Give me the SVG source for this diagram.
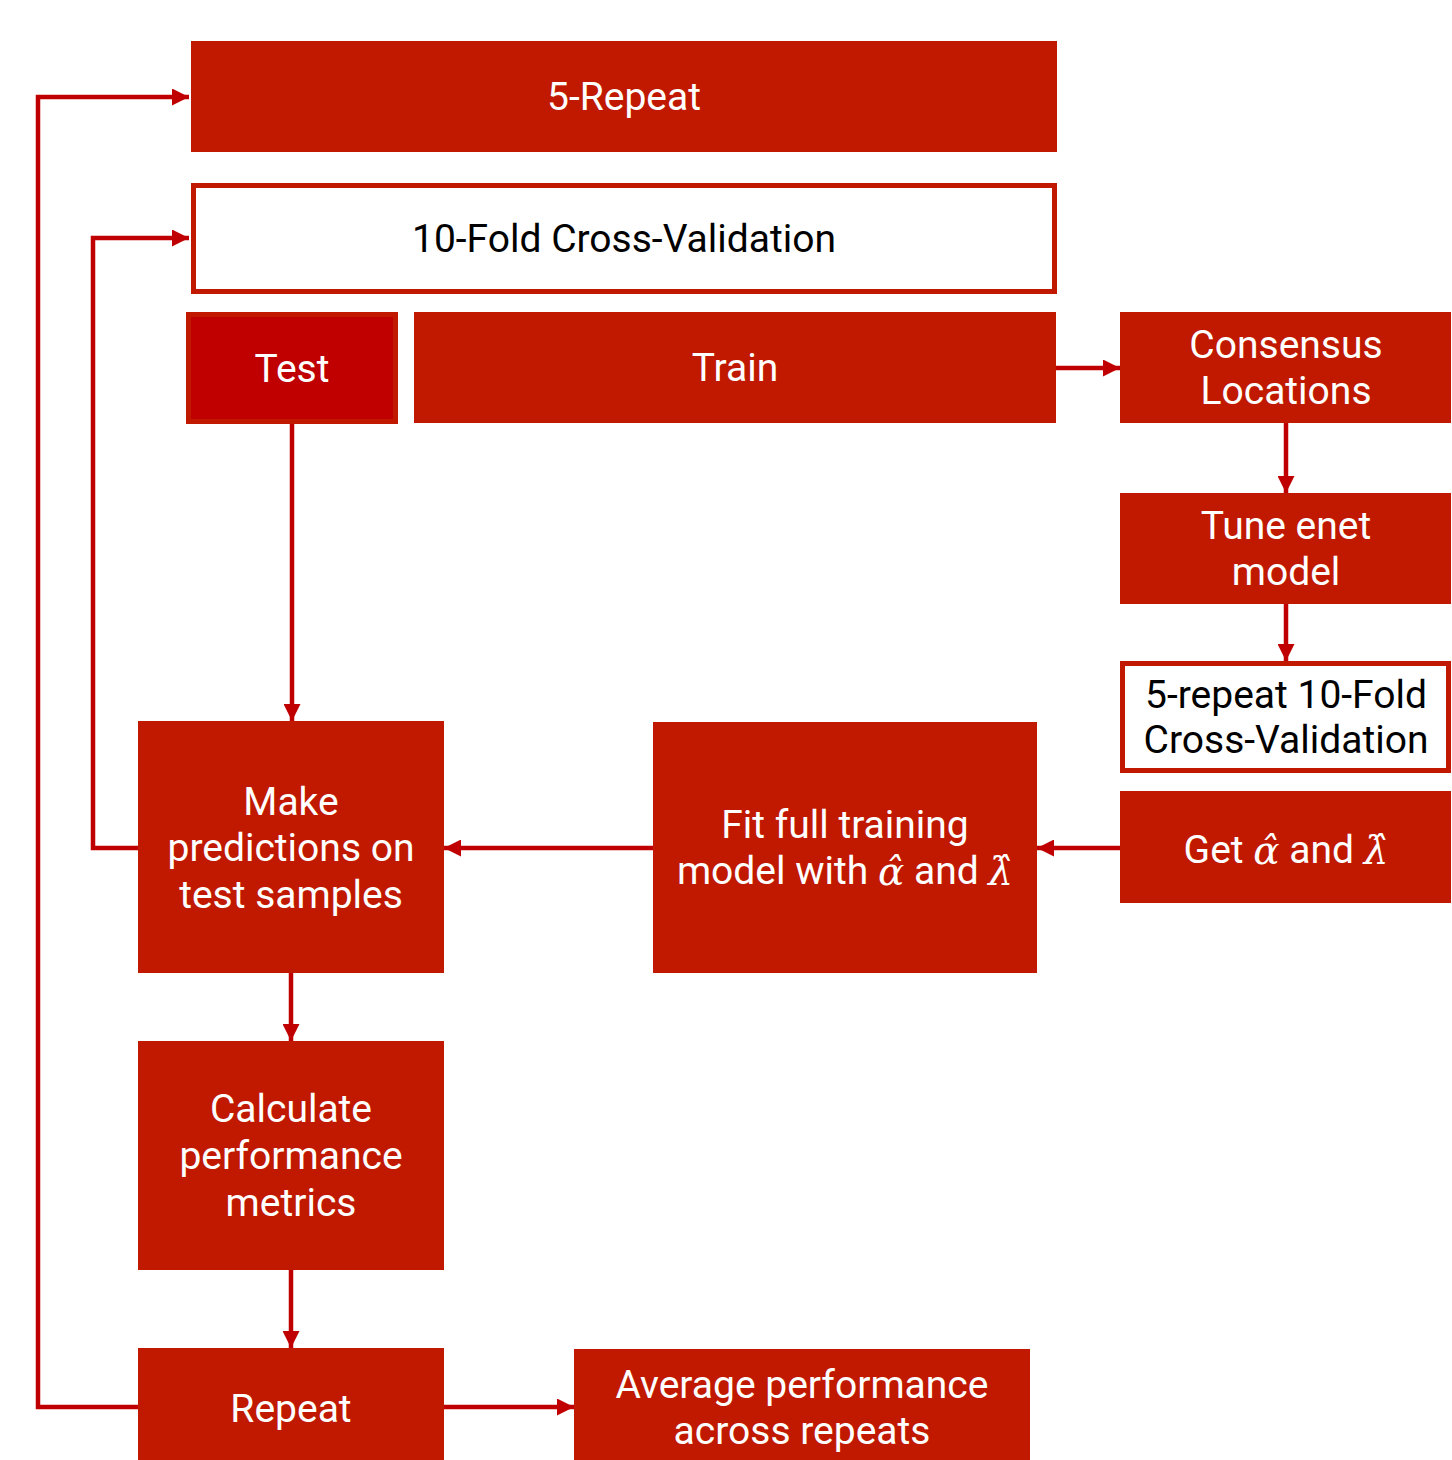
<svg xmlns="http://www.w3.org/2000/svg" width="1452" height="1460" viewBox="0 0 1452 1460">
<defs>
<style>
.box{fill:#C01900;}
.wbox{fill:#FFFFFF;stroke:#C01900;stroke-width:5;}
.t{font-family:Roboto,"Liberation Sans",sans-serif;font-size:39px;fill:#FFFFFF;text-anchor:middle;dominant-baseline:central;}
.k{fill:#000000;}
.m{font-family:"DejaVu Serif","Liberation Serif",serif;font-style:italic;}
.c{fill:none;stroke:#C00000;stroke-width:4.5;}
</style>
<marker id="ah" viewBox="0 0 10 10" refX="10" refY="5" markerWidth="18" markerHeight="17" markerUnits="userSpaceOnUse" orient="auto">
<path d="M0,0 L10,5 L0,10 z" fill="#C00000"/>
</marker>
</defs>
<g id="connectors">
<polyline class="c" points="138,1407 38,1407 38,97 189,97" marker-end="url(#ah)"/>
<polyline class="c" points="138,848 93,848 93,238 189,238" marker-end="url(#ah)"/>
<line class="c" x1="292" y1="423" x2="292" y2="721" marker-end="url(#ah)"/>
<line class="c" x1="1056" y1="368" x2="1120" y2="368" marker-end="url(#ah)"/>
<line class="c" x1="1286" y1="423" x2="1286" y2="493" marker-end="url(#ah)"/>
<line class="c" x1="1286" y1="604" x2="1286" y2="661" marker-end="url(#ah)"/>
<line class="c" x1="1120" y1="848" x2="1037" y2="848" marker-end="url(#ah)"/>
<line class="c" x1="653" y1="848" x2="444" y2="848" marker-end="url(#ah)"/>
<line class="c" x1="291" y1="973" x2="291" y2="1041" marker-end="url(#ah)"/>
<line class="c" x1="291" y1="1270" x2="291" y2="1348" marker-end="url(#ah)"/>
<line class="c" x1="444" y1="1407" x2="574" y2="1407" marker-end="url(#ah)"/>
</g>
<g id="repeat5">
<rect class="box" x="191" y="41" width="866" height="111"/>
<text class="t" x="624" y="97">5-Repeat</text>
</g>
<g id="cv10">
<rect class="wbox" x="193.5" y="185.5" width="861" height="106"/>
<text class="t k" x="624" y="239">10-Fold Cross-Validation</text>
</g>
<g id="test">
<rect x="188.5" y="314.5" width="207" height="107" fill="#C00000" stroke="#C01900" stroke-width="5"/>
<text class="t" x="292" y="369">Test</text>
</g>
<g id="train">
<rect class="box" x="414" y="312" width="642" height="111"/>
<text class="t" x="735" y="368">Train</text>
</g>
<g id="consensus">
<rect class="box" x="1120" y="312" width="331" height="111"/>
<text class="t" x="1286" y="345">Consensus</text>
<text class="t" x="1286" y="391">Locations</text>
</g>
<g id="tune">
<rect class="box" x="1120" y="493" width="331" height="111"/>
<text class="t" x="1286" y="526">Tune enet</text>
<text class="t" x="1286" y="572">model</text>
</g>
<g id="cv5x10">
<rect class="wbox" x="1122.5" y="663.5" width="326" height="107"/>
<text class="t k" x="1286" y="695">5-repeat 10-Fold</text>
<text class="t k" x="1286" y="740">Cross-Validation</text>
</g>
<g id="get">
<rect class="box" x="1120" y="791" width="331" height="112"/>
<text class="t" x="1286" y="850">Get <tspan class="m">α̂</tspan> and <tspan class="m">λ̂</tspan></text>
</g>
<g id="predict">
<rect class="box" x="138" y="721" width="306" height="252"/>
<text class="t" x="291" y="802">Make</text>
<text class="t" x="291" y="848">predictions on</text>
<text class="t" x="291" y="895">test samples</text>
</g>
<g id="fit">
<rect class="box" x="653" y="722" width="384" height="251"/>
<text class="t" x="845" y="825">Fit full training</text>
<text class="t" x="845" y="871">model with <tspan class="m">α̂</tspan> and <tspan class="m">λ̂</tspan></text>
</g>
<g id="calc">
<rect class="box" x="138" y="1041" width="306" height="229"/>
<text class="t" x="291" y="1109">Calculate</text>
<text class="t" x="291" y="1156">performance</text>
<text class="t" x="291" y="1203">metrics</text>
</g>
<g id="repeat">
<rect class="box" x="138" y="1348" width="306" height="112"/>
<text class="t" x="291" y="1409">Repeat</text>
</g>
<g id="average">
<rect class="box" x="574" y="1349" width="456" height="111"/>
<text class="t" x="802" y="1385">Average performance</text>
<text class="t" x="802" y="1431">across repeats</text>
</g>
</svg>
